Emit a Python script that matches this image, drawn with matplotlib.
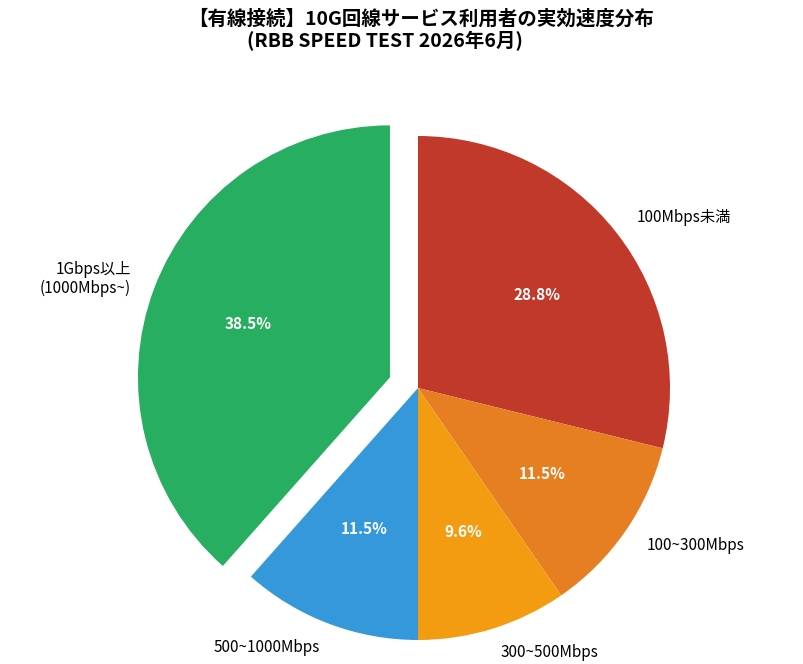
import matplotlib
matplotlib.use("Agg")
import matplotlib.pyplot as plt

plt.rcParams['font.family'] = ['Noto Sans CJK JP', 'DejaVu Sans']

# 回答数 (52件中)
labels = ['100Mbps未満', '100~300Mbps', '300~500Mbps', '500~1000Mbps', '1Gbps以上\n(1000Mbps~)']
counts = [15, 6, 5, 6, 20]
colors = ['#c0392b', '#e67e22', '#f39c12', '#3498db', '#27ae60']
explode = [0, 0, 0, 0, 30]   # pie() uses data units here (radius=252)

cx, cy = 418, 276

fig = plt.figure(figsize=(8.04, 6.64), dpi=100)
ax = fig.add_axes([0, 0, 1, 1])

wedges, texts, autotexts = ax.pie(counts, labels=labels, colors=colors, explode=explode,
                                  startangle=90, counterclock=False, radius=252,
                                  center=(cx, cy), autopct='%1.1f%%', pctdistance=0.6,
                                  labeldistance=1.1, textprops={'fontsize': 11})
# center is not at 0, so fix the label alignment by hand
for t in texts:
    x, y = t.get_position()
    t.set_horizontalalignment('left' if x > cx else 'right')
for t in autotexts:
    t.set_color('white')
    t.set_fontweight('bold')
    t.set_fontsize(11)

ax.set_xlim(0, 804)
ax.set_ylim(0, 664)
ax.set_aspect('equal')
ax.axis('off')

fig.text(421 / 804, 1 - 19 / 664, '【有線接続】10G回線サービス利用者の実効速度分布',
         ha='center', va='center', fontsize=14, fontweight='bold')
fig.text(385 / 804, 1 - 41 / 664, '(RBB SPEED TEST 2026年6月)',
         ha='center', va='center', fontsize=14, fontweight='bold')

fig.savefig('out.png', dpi=100)
